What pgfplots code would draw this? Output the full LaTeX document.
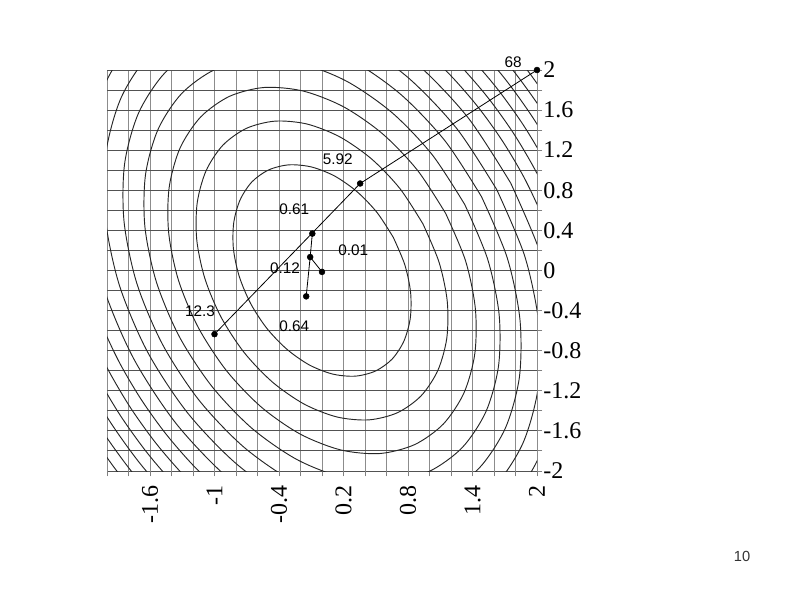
\documentclass[border=0pt]{standalone}
\usepackage{pgfplots}
\pgfplotsset{compat=1.18}
\usepackage{fontspec}
\setmainfont{Liberation Serif}
\newfontfamily\arial{Liberation Sans}
\begin{document}
\begin{tikzpicture}
\useasboundingbox (-80.25pt,-96.75pt) rectangle (519.75pt,353.25pt);
\begin{axis}[
  at={(0pt,0pt)}, anchor=south west,
  scale only axis, width=322.5pt, height=300.75pt,
  xmin=-2, xmax=2, ymin=-2, ymax=2,
  clip mode=individual,
  xtick={-2,-1.8,-1.6,-1.4,-1.2,-1,-0.8,-0.6,-0.4,-0.2,0,0.2,0.4,0.6,0.8,1,1.2,1.4,1.6,1.8,2},
  ytick={-2,-1.8,-1.6,-1.4,-1.2,-1,-0.8,-0.6,-0.4,-0.2,0,0.2,0.4,0.6,0.8,1,1.2,1.4,1.6,1.8,2},
  xticklabels={,,-1.6,,,-1,,,-0.4,,,0.2,,,0.8,,,1.4,,,2},
  yticklabels={-2,,-1.6,,-1.2,,-0.8,,-0.4,,0,,0.4,,0.8,,1.2,,1.6,,2},
  xtick pos=left, ytick pos=right,
  xticklabel pos=left, yticklabel pos=right,
  tick align=outside, major tick length=4pt,
  tick label style={font=\fontsize{18}{18}\selectfont, inner sep=0.5pt},
  xticklabel style={rotate=90, anchor=east, xshift=-6pt},
  yticklabel style={anchor=west},
  grid=major,
  major x grid style={black!45, line width=0.75pt},
  major y grid style={black!68, line width=0.75pt},
  axis line style={draw=none},
  major tick style={black!50, line width=0.7pt},
  ctr/.style={black!85, line width=0.7pt, smooth, mark=none},
]
% contour levels 1..7 (closed curves)
\addplot[ctr] coordinates {(0.664,0.329) (0.513,0.577) (0.326,0.786) (0.118,0.942) (-0.099,1.033) (-0.308,1.054) (-0.497,1.003) (-0.652,0.884) (-0.762,0.704) (-0.821,0.477) (-0.824,0.217) (-0.770,-0.058) (-0.664,-0.329) (-0.513,-0.577) (-0.326,-0.786) (-0.118,-0.942) (0.099,-1.033) (0.308,-1.054) (0.497,-1.003) (0.652,-0.884) (0.762,-0.704) (0.821,-0.477) (0.824,-0.217) (0.770,0.058) (0.664,0.329)};
\addplot[ctr] coordinates {(0.939,0.465) (0.725,0.817) (0.462,1.112) (0.167,1.332) (-0.139,1.461) (-0.436,1.490) (-0.703,1.418) (-0.922,1.250) (-1.078,0.996) (-1.161,0.674) (-1.165,0.306) (-1.089,-0.082) (-0.939,-0.465) (-0.725,-0.817) (-0.462,-1.112) (-0.167,-1.332) (0.139,-1.461) (0.436,-1.490) (0.703,-1.418) (0.922,-1.250) (1.078,-0.996) (1.161,-0.674) (1.165,-0.306) (1.089,0.082) (0.939,0.465)};
\addplot[ctr] coordinates {(1.150,0.570) (0.888,1.000) (0.565,1.362) (0.204,1.631) (-0.171,1.789) (-0.534,1.826) (-0.861,1.737) (-1.129,1.531) (-1.321,1.220) (-1.422,0.826) (-1.426,0.375) (-1.334,-0.101) (-1.150,-0.570) (-0.888,-1.000) (-0.565,-1.362) (-0.204,-1.631) (0.171,-1.789) (0.534,-1.826) (0.861,-1.737) (1.129,-1.531) (1.321,-1.220) (1.422,-0.826) (1.426,-0.375) (1.334,0.101) (1.150,0.570)};
\addplot[ctr] coordinates {(1.328,0.658) (1.025,1.155) (0.653,1.573) (0.236,1.884) (-0.197,2.066) (-0.617,2.108) (-0.994,2.006) (-1.304,1.767) (-1.525,1.408) (-1.642,0.953) (-1.647,0.433) (-1.540,-0.116) (-1.328,-0.658) (-1.025,-1.155) (-0.653,-1.573) (-0.236,-1.884) (0.197,-2.066) (0.617,-2.108) (0.994,-2.006) (1.304,-1.767) (1.525,-1.408) (1.642,-0.953) (1.647,-0.433) (1.540,0.116) (1.328,0.658)};
\addplot[ctr] coordinates {(1.484,0.736) (1.146,1.291) (0.730,1.759) (0.264,2.106) (-0.220,2.310) (-0.690,2.357) (-1.112,2.243) (-1.458,1.976) (-1.705,1.574) (-1.836,1.066) (-1.841,0.484) (-1.722,-0.130) (-1.484,-0.736) (-1.146,-1.291) (-0.730,-1.759) (-0.264,-2.106) (0.220,-2.310) (0.690,-2.357) (1.112,-2.243) (1.458,-1.976) (1.705,-1.574) (1.836,-1.066) (1.841,-0.484) (1.722,0.130) (1.484,0.736)};
\addplot[ctr] coordinates {(1.626,0.806) (1.255,1.414) (0.799,1.926) (0.289,2.307) (-0.242,2.531) (-0.755,2.582) (-1.218,2.457) (-1.597,2.165) (-1.868,1.725) (-2.011,1.167) (-2.017,0.531) (-1.886,-0.143) (-1.626,-0.806) (-1.255,-1.414) (-0.799,-1.926) (-0.289,-2.307) (0.242,-2.531) (0.755,-2.582) (1.218,-2.457) (1.597,-2.165) (1.868,-1.725) (2.011,-1.167) (2.017,-0.531) (1.886,0.143) (1.626,0.806)};
\addplot[ctr] coordinates {(1.756,0.871) (1.356,1.528) (0.863,2.081) (0.312,2.492) (-0.261,2.733) (-0.816,2.788) (-1.315,2.654) (-1.725,2.338) (-2.017,1.863) (-2.172,1.261) (-2.179,0.573) (-2.037,-0.154) (-1.756,-0.871) (-1.356,-1.528) (-0.863,-2.081) (-0.312,-2.492) (0.261,-2.733) (0.816,-2.788) (1.315,-2.654) (1.725,-2.338) (2.017,-1.863) (2.172,-1.261) (2.179,-0.573) (2.037,0.154) (1.756,0.871)};
% levels 8..13: arcs in upper-right and lower-left corners
\addplot[ctr] coordinates {(2.178,0.165) (2.045,0.552) (1.878,0.931) (1.678,1.293) (1.450,1.633) (1.197,1.945) (0.923,2.224) (0.634,2.465)};
\addplot[ctr] coordinates {(-2.178,-0.165) (-2.045,-0.552) (-1.878,-0.931) (-1.678,-1.293) (-1.450,-1.633) (-1.197,-1.945) (-0.923,-2.224) (-0.634,-2.465)};
\addplot[ctr] coordinates {(2.310,0.175) (2.169,0.586) (1.991,0.987) (1.780,1.371) (1.538,1.732) (1.269,2.063) (0.979,2.359)};
\addplot[ctr] coordinates {(-2.310,-0.175) (-2.169,-0.586) (-1.991,-0.987) (-1.780,-1.371) (-1.538,-1.732) (-1.269,-2.063) (-0.979,-2.359)};
\addplot[ctr] coordinates {(2.435,0.184) (2.286,0.618) (2.099,1.040) (1.876,1.446) (1.621,1.826) (1.338,2.175) (1.032,2.487)};
\addplot[ctr] coordinates {(-2.435,-0.184) (-2.286,-0.618) (-2.099,-1.040) (-1.876,-1.446) (-1.621,-1.826) (-1.338,-2.175) (-1.032,-2.487)};
\addplot[ctr] coordinates {(2.398,0.648) (2.202,1.091) (1.967,1.516) (1.700,1.915) (1.403,2.281) (1.082,2.608)};
\addplot[ctr] coordinates {(-2.398,-0.648) (-2.202,-1.091) (-1.967,-1.516) (-1.700,-1.915) (-1.403,-2.281) (-1.082,-2.608)};
\addplot[ctr] coordinates {(2.505,0.677) (2.300,1.140) (2.055,1.583) (1.775,2.000) (1.466,2.383)};
\addplot[ctr] coordinates {(-2.505,-0.677) (-2.300,-1.140) (-2.055,-1.583) (-1.775,-2.000) (-1.466,-2.383)};
\addplot[ctr] coordinates {(2.393,1.186) (2.139,1.648) (1.998,1.869) (1.848,2.082) (1.526,2.480)};
\addplot[ctr] coordinates {(-2.393,-1.186) (-2.139,-1.648) (-1.998,-1.869) (-1.848,-2.082) (-1.526,-2.480)};
% search path
\addplot[black, line width=0.6pt, mark=none] coordinates {(2,2) (0.355,0.868) (-1.0,-0.635)};
\addplot[black, line width=0.6pt, mark=none] coordinates {(-0.09,0.368) (-0.11,0.134) (0,-0.014)};
\addplot[black, line width=0.6pt, mark=none] coordinates {(-0.11,0.134) (-0.147,-0.258)};
\addplot[black, only marks, mark=*, mark size=2.2pt] coordinates {(2,2) (0.355,0.868) (-0.09,0.368) (-0.11,0.134) (0,-0.014) (-1.0,-0.635) (-0.147,-0.258)};
% value labels
\begin{scope}[every node/.style={font=\arial\fontsize{11.5}{12}\selectfont, inner sep=0pt}]
\node at (axis cs:1.777,2.08) {68};
\node at (axis cs:0.146,1.110) {5.92};
\node at (axis cs:-0.258,0.611) {0.61};
\node at (axis cs:0.291,0.205) {0.01};
\node at (axis cs:-0.344,0.023) {0.12};
\node at (axis cs:-1.135,-0.403) {12.3};
\node at (axis cs:-0.258,-0.552) {0.64};
\end{scope}
\node[font=\arial\fontsize{11}{12}\selectfont, text=black!80] at (axis cs:3.907,-2.855) {10};
\end{axis}
\end{tikzpicture}
\end{document}
